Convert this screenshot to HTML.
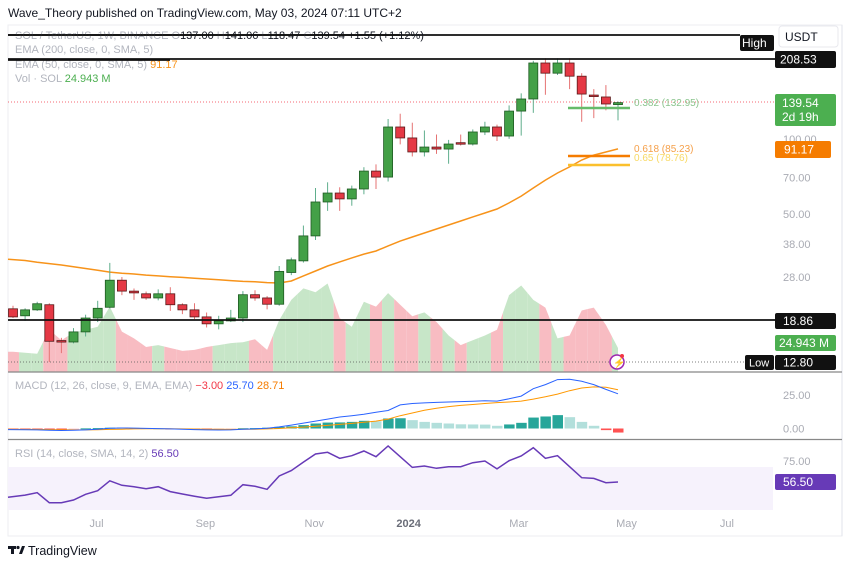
<!DOCTYPE html>
<html><head><meta charset="utf-8"><title>SOL/USDT weekly chart</title>
<style>
body{margin:0;background:#fff;}
svg{display:block;font-family:"Liberation Sans",sans-serif;}
</style></head>
<body>
<svg id="chart" width="850" height="565" viewBox="0 0 850 565" xmlns="http://www.w3.org/2000/svg">
<rect x="0" y="0" width="850" height="565" fill="#fff"/>
<text x="8" y="17" font-size="12" fill="#131722">Wave_Theory published on TradingView.com, May 03, 2024 07:11 UTC+2</text>
<rect x="8" y="25" width="834" height="511" fill="none" stroke="#eceef2"/>
<line x1="842" y1="25" x2="842" y2="536" stroke="#e0e3eb"/>
<rect x="8" y="467" width="765" height="43" fill="#f6f2fc"/>
<g id="vol"></g>
<g id="price"></g>
<g id="macd"></g>
<g id="rsi"></g>
<g id="overlay"></g>
</svg>
<script>
const categories = ["May 15","May 22","May 29","Jun 05","Jun 12","Jun 19","Jun 26","Jul 03","Jul 10","Jul 17","Jul 24","Jul 31","Aug 07","Aug 14","Aug 21","Aug 28","Sep 04","Sep 11","Sep 18","Sep 25","Oct 02","Oct 09","Oct 16","Oct 23","Oct 30","Nov 06","Nov 13","Nov 20","Nov 27","Dec 04","Dec 11","Dec 18","Dec 25","Jan 01","Jan 08","Jan 15","Jan 22","Jan 29","Feb 05","Feb 12","Feb 19","Feb 26","Mar 04","Mar 11","Mar 18","Mar 25","Apr 01","Apr 08","Apr 15","Apr 22","Apr 29"];
const opens  = [20.9,19.6,20.7,21.7,15.6,15.4,16.9,19.2,21.2,27.2,24.6,24.0,23.1,24.0,21.7,20.7,19.4,18.2,18.7,19.2,23.8,23.1,21.8,29.2,32.5,40.9,55.9,60.7,57.5,63.0,74.3,70.3,111.5,100.8,88.6,92.7,91.0,96.5,95.3,106.5,111.5,102.6,129.1,144.3,201,183,201,178,149.6,147,137.0];
const highs  = [21.5,21.0,22.3,22.0,16.0,17.5,19.8,22.5,31.9,28.0,25.2,24.5,25.0,25.5,22.0,22.0,20.2,19.6,20.7,24.6,24.8,23.5,31.0,33.5,45.0,63.6,67.0,64.0,65.0,77.0,79.0,120,126,116,108,104,99,104,109,117,114,136,152,205,210,210,210,183,158,164,141.06];
const lows   = [19.2,18.7,20.5,12.8,13.9,15.2,16.2,18.5,21.0,23.7,22.7,22.7,22.6,20.5,19.9,19.0,17.6,17.3,18.5,18.5,22.5,20.8,21.5,28.5,32.0,39.4,51.5,51.5,54.0,60.0,63.0,67.5,95,85,85,87,79.5,94,94,103.5,98,100,103,127,150,180,158,117,121,130,118.47];
const closes = [19.4,20.7,21.9,15.5,15.5,16.9,19.2,21.0,27.2,24.6,24.2,23.1,24.0,21.7,20.7,19.4,18.2,18.7,19.2,23.8,23.1,21.8,29.5,32.8,40.9,55.9,60.7,57.5,63.0,74.3,70.3,111.5,100.8,88.6,92.7,91.0,95.3,96.2,106.5,111.5,102.6,129.1,144.3,201,183,201,178,151,149,137.8,139.54];
const ema50  = [33.0,32.6,32.1,31.7,31.3,30.8,30.3,29.8,29.3,29.0,28.8,28.5,28.3,28.1,27.9,27.7,27.5,27.3,27.1,26.9,26.8,26.6,26.5,27.0,28.3,29.6,31.0,32.2,33.4,34.6,35.6,37.3,39.0,40.5,42.0,43.6,45.2,46.9,48.7,50.5,52.4,55.4,59.0,63.6,68.4,73.0,77.2,82.3,86.1,88.6,91.17];
const volumes= [21,20,19,44,33,41,44,47,68,42,35,26,28,25,22,23,26,28,30,31,34,23,54,75,87,83,92,56,47,73,68,82,70,58,62,52,38,28,33,38,44,80,90,75,67,35,38,64,67,49,24.943];
const macdLine = [-0.8,-0.9,-1.0,-1.3,-1.5,-1.3,-1.0,-0.6,0.2,0.4,0.3,0.1,-0.1,-0.3,-0.6,-0.8,-1.0,-1.1,-1.0,-0.5,-0.3,0.2,1.2,2.5,4.0,5.5,7.0,8.5,9.5,10.6,12.0,13.3,17.5,18.5,19.0,19.3,19.6,19.9,20.2,20.5,20.3,22.0,24.0,29.5,32.5,36.2,36.5,35.0,32.5,29.0,25.7];
const signalLine = [-0.6,-0.7,-0.7,-0.8,-0.9,-1.0,-1.0,-0.9,-0.7,-0.5,-0.3,-0.2,-0.2,-0.2,-0.3,-0.4,-0.5,-0.6,-0.7,-0.6,-0.5,-0.3,0.0,0.5,1.0,1.6,2.3,3.0,3.8,4.6,5.5,7.0,9.5,11.5,13.5,15.0,16.2,17.1,17.8,18.5,19.2,19.6,20.3,21.8,23.5,25.5,28.0,30.0,30.8,30.5,28.71];
const histogram = [-0.1,-0.2,-0.3,-0.4,-0.5,-0.3,0.1,0.3,0.6,0.7,0.5,0.3,0.1,-0.1,-0.3,-0.4,-0.5,-0.4,-0.3,0.2,0.3,0.6,1.2,1.6,2.5,3.7,4.4,4.5,4.9,5.7,5.4,7.4,7.6,6.2,4.9,4.2,3.7,3.1,3.0,2.9,2.0,3.0,4.2,8.1,8.9,9.9,8.4,4.9,2.0,-1.2,-3.0];
const rsiValues = [43.0,45.0,47.1,38.3,38.3,40.6,45.7,48.8,57.6,53.6,52.4,50.6,52.4,48.0,45.9,44.0,42.1,43.5,44.8,54.1,52.7,50.1,61.8,66.5,74.0,81.2,82.7,77.4,79.7,83.8,78.8,88.2,78.8,69.4,70.6,68.6,70.0,70.0,73.5,75.0,68.0,75.3,79.4,86.7,77.4,79.7,70.0,60.3,59.7,55.9,56.5];
const priceTicks = [100,70,50,38,28];
const macdTicks = [25,0];
const rsiTicks = [75];
const timeLabels = ["Jul","Sep","Nov","2024","Mar","May","Jul"];
const timeLabelIdx = [6.9,15.9,24.9,32.7,41.8,50.7,59];
const fibLevels = [132.95,85.23,78.76];
const fibNames = ["0.382 (132.95)","0.618 (85.23)","0.65 (78.76)"];
const athHigh = 208.53, allLow = 12.80, supportLevel = 18.86;

const NS="http://www.w3.org/2000/svg";
function el(tag, attrs, parent, text){const e=document.createElementNS(NS,tag);for(const k in attrs)e.setAttribute(k,attrs[k]);if(text!==undefined)e.textContent=text;(parent||document.getElementById('overlay')).appendChild(e);return e;}
const xAt = i => 13 + 12.1*i;
const LNMAX = Math.log(208.53);
const yP = p => 59 + (LNMAX - Math.log(p))*108.6;
const yV = v => 372 - v/1.04;
const yM = v => 428.5 - v*1.35;
const yR = r => 482 - (r-56.5)*1.135;
const GREEN="#4caf50", RED="#f23645";
const isUp = i => closes[i] >= opens[i];

// volume area segments
const vg=document.getElementById('vol');
for(let i=0;i<volumes.length;i++){
  const x0 = i===0 ? 8 : (xAt(i-1)+xAt(i))/2, v0 = i===0 ? volumes[0] : (volumes[i-1]+volumes[i])/2;
  const x1 = i===volumes.length-1 ? xAt(i) : (xAt(i)+xAt(i+1))/2, v1 = i===volumes.length-1 ? volumes[i] : (volumes[i]+volumes[i+1])/2;
  const pts=`${x0},372 ${x0},${yV(v0)} ${xAt(i)},${yV(volumes[i])} ${x1},${yV(v1)} ${x1},372`;
  const p=el('polygon',{points:pts,fill:isUp(i)?'#c7e6c8':'#f8bcc2'},vg);
  
  
}

// static lines
const ov=document.getElementById('overlay');
const pg=document.getElementById('price');
el('line',{x1:8,y1:102,x2:775,y2:102,stroke:'#f23645','stroke-dasharray':'1 2','stroke-width':0.8},pg);
el('line',{x1:8,y1:362,x2:745,y2:362,stroke:'#555','stroke-dasharray':'1 2','stroke-width':0.8},pg);

// EMA
let d='';
ema50.forEach((v,i)=>{d+=(i?'L':'M')+(i===0?8:xAt(i))+','+yP(v).toFixed(1);});
const emaPath=el('path',{d:d,fill:'none',stroke:'#f7931a','stroke-width':1.5},pg);



// candles
for(let i=0;i<opens.length;i++){
  const up=isUp(i), x=xAt(i);
  const g=el('g',{},pg);
  
  
  el('line',{x1:x,y1:yP(highs[i]),x2:x,y2:yP(lows[i]),stroke:up?'#5fae8c':'#e57373','stroke-width':1},g);
  const yt=yP(Math.max(opens[i],closes[i])), yb=yP(Math.min(opens[i],closes[i]));
  el('rect',{x:x-4.5,y:yt,width:9,height:Math.max(1.5,yb-yt),fill:up?'#43a047':'#e53945',stroke:up?'#1e5a22':'#5a1a1a','stroke-width':0.8},g);
}

// fib lines
const fibColors=['#66bb6a','#f57c00','#fbc02d'];
fibLevels.forEach((f,k)=>{
  const y=yP(f)+ (k===0?-0:0);
  const ln=el('line',{x1:568,y1:[108,156,165][k],x2:630,y2:[108,156,165][k],stroke:fibColors[k],'stroke-width':2.5},pg);
  
  
  const t=el('text',{x:634,y:[106,152,161][k],'font-size':10,fill:['#8bc58e','#f5a04a','#f8d964'][k]},pg,fibNames[k]);
  
  
});

// horizontal black lines
el('line',{x1:8,y1:35,x2:740,y2:35,stroke:'#111','stroke-width':1.8},ov);
el('line',{x1:8,y1:yP(athHigh),x2:775,y2:yP(athHigh),stroke:'#111','stroke-width':1.8},ov);
el('line',{x1:8,y1:yP(supportLevel),x2:775,y2:yP(supportLevel),stroke:'#111','stroke-width':1.8},ov);

// legend
const lg=el('text',{x:15,y:39,'font-size':11,fill:'#b2b5be'},ov);


lg.innerHTML='SOL / TetherUS, 1W, BINANCE  O<tspan fill="#131722">137.00</tspan>  H<tspan fill="#131722">141.06</tspan>  L<tspan fill="#131722">118.47</tspan>  C<tspan fill="#131722">139.54</tspan>  <tspan fill="#131722">+1.55 (+1.12%)</tspan>';
lg.setAttribute('xml:space','preserve');
el('line',{x1:8,y1:35,x2:400,y2:35,stroke:'#111','stroke-width':1.8},ov);
const e200=el('text',{x:15,y:53,'font-size':11,fill:'#b2b5be'},ov,'EMA (200, close, 0, SMA, 5)');

const e50=el('text',{x:15,y:68,'font-size':11,fill:'#b2b5be'},ov);

e50.innerHTML='EMA (50, close, 0, SMA, 5) <tspan fill="#f7931a">91.17</tspan>';
el('line',{x1:8,y1:60,x2:170,y2:60,stroke:'#111','stroke-width':1.8},ov);
const vl=el('text',{x:15,y:82,'font-size':11,fill:'#b2b5be'},ov);

vl.innerHTML='Vol · SOL  <tspan fill="#4caf50">24.943 M</tspan>';

// axis labels price
priceTicks.forEach(p=>{
  const t=el('text',{x:783,y:yP(p)+4,'font-size':11,fill:'#a9abb3'},ov,p.toFixed(2));
  
  
});
function box(x,y,w,h,fill,txt,name,fs,tx){
  const g=el('g',{},ov);
  
  
  el('rect',{x:x,y:y,width:w,height:h,fill:fill,rx:2},g);
  el('text',{x:tx||x+5,y:y+h/2+4,'font-size':fs||12,fill:'#fff'},g,txt);
  return g;
}
const ub=el('rect',{x:779,y:26,width:59,height:21,fill:'#fff',stroke:'#e8e8ee',rx:3},ov);


el('text',{x:785,y:41,'font-size':12,fill:'#131722'},ov,'USDT');
box(740,35,34,16,'#111','High','high-label',12,742);
box(775,51,61,17,'#111','208.53','ath-price-label');
const gb=el('rect',{x:775,y:94,width:61,height:32,fill:'#4caf50',rx:2},ov);

el('text',{x:782,y:107,'font-size':12,fill:'#fff'},ov,'139.54');
el('text',{x:782,y:121,'font-size':12,fill:'#fff'},ov,'2d 19h');
box(775,141,56,17,'#f57c00','91.17','ema-price-label',12,784);
box(775,313,61,16,'#111','18.86','support-price-label',12,783);
box(775,335,61,16,'#4caf50','24.943 M','volume-value-label',12,779);
box(745,355,29,15,'#111','Low','low-label',11,749);
box(775,355,61,15,'#111','12.80','low-price-label',12,783);

// lightning icon
const li=el('g',{},ov);


el('circle',{cx:617,cy:362,r:7,fill:'#fff',stroke:'#9c27b0','stroke-width':1.5},li);
el('text',{x:613,y:366,'font-size':10,fill:'#9c27b0'},li,'⚡');
el('circle',{cx:622,cy:356,r:2,fill:'#f23645'},li);

// pane separators
el('line',{x1:8,y1:372,x2:842,y2:372,stroke:'#888','stroke-width':1.2},ov);
el('line',{x1:8,y1:439.5,x2:842,y2:439.5,stroke:'#888','stroke-width':1.2},ov);

// MACD
const mg=document.getElementById('macd');
histogram.forEach((h,i)=>{
  const prev=i?histogram[i-1]:0;
  const col = h>=0 ? (h>prev?'#26a69a':'#b2dfdb') : (h<prev?'#ff5252':'#ffcdd2');
  const y0=yM(0), y1=yM(h);
  const r=el('rect',{x:xAt(i)-5,y:Math.min(y0,y1),width:10.5,height:Math.max(1,Math.abs(y1-y0)),fill:col},mg);
  
  
});
function linePath(arr,yf,x0){let s='';arr.forEach((v,i)=>{s+=(i?'L':'M')+(i===0&&x0?x0:xAt(i))+','+yf(v).toFixed(1);});return s;}
const sl=el('path',{d:linePath(signalLine,yM,8),fill:'none',stroke:'#ff9800','stroke-width':1},mg);

const ml=el('path',{d:linePath(macdLine,yM,8),fill:'none',stroke:'#2962ff','stroke-width':1},mg);

const mlg=el('text',{x:15,y:389,'font-size':11,fill:'#b2b5be'},mg);

mlg.setAttribute('xml:space','preserve');
mlg.innerHTML='MACD (12, 26, close, 9, EMA, EMA)  <tspan fill="#f23645">−3.00</tspan>  <tspan fill="#2962ff">25.70</tspan>  <tspan fill="#f57c00">28.71</tspan>';
macdTicks.forEach(v=>{const t=el('text',{x:783,y:yM(v)+4,'font-size':11,fill:'#a9abb3'},mg,v.toFixed(2));});

// RSI
const rg=document.getElementById('rsi');
const rl=el('path',{d:linePath(rsiValues,yR,8),fill:'none',stroke:'#673ab7','stroke-width':1.5},rg);


const rlg=el('text',{x:15,y:457,'font-size':11,fill:'#b2b5be'},rg);

rlg.innerHTML='RSI (14, close, SMA, 14, 2)  <tspan fill="#673ab7">56.50</tspan>';
rsiTicks.forEach(v=>{const t=el('text',{x:783,y:yR(v)+4,'font-size':11,fill:'#a9abb3'},rg,v.toFixed(2));});
box(775,474,61,16,'#673ab7','56.50','rsi-value-label',12,783);

// time axis
timeLabels.forEach((t,k)=>{
  const tx=el('text',{x:xAt(timeLabelIdx[k]),y:527,'font-size':11,fill:t==='2024'?'#6a6d78':'#a9abb3','font-weight':t==='2024'?'bold':'normal','text-anchor':'middle'},ov,t);
  
  
});

// logo
const lo=el('g',{},ov);


el('rect',{x:8,y:546,width:8,height:3,fill:'#131722'},lo);
el('rect',{x:11,y:546,width:3,height:8,fill:'#131722'},lo);
el('circle',{cx:18,cy:547.5,r:1.6,fill:'#131722'},lo);
el('polygon',{points:'19,554 22,546 25,546 22,554',fill:'#131722'},lo);
el('text',{x:28,y:555,'font-size':12.5,fill:'#131722'},lo,'TradingView');
</script>
</body></html>
